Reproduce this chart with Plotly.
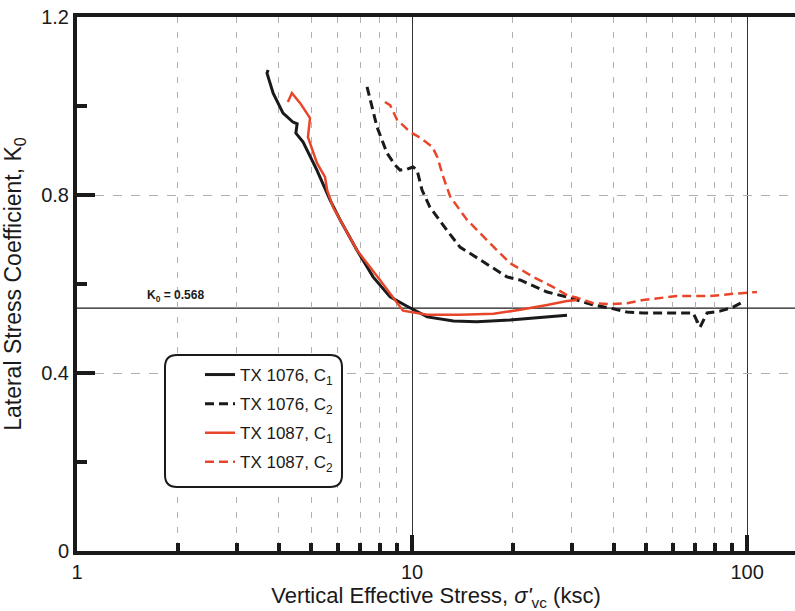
import plotly.graph_objects as go

# ---- data ----
x_1076_c1 = [3.72, 3.69, 3.85, 4.12, 4.41, 4.54, 4.50, 4.73, 5.20, 5.69, 6.10, 6.85, 7.65, 8.60, 9.66, 11.1, 13.3, 15.6, 19.6, 24.6, 29.0]
y_1076_c1 = [1.081, 1.074, 1.029, 0.984, 0.964, 0.960, 0.939, 0.919, 0.856, 0.789, 0.744, 0.676, 0.616, 0.571, 0.550, 0.526, 0.517, 0.515, 0.519, 0.526, 0.530]

x_1076_c2 = [7.34, 7.60, 7.86, 8.42, 8.90, 9.21, 9.66, 10.07, 10.35, 10.71, 11.3, 12.7, 13.9, 16.0, 19.2, 21.0, 25.3, 29.6, 33.3, 34.7, 39.0, 43.8, 48.9, 61.8, 69.0, 72.4, 76.0, 83.0, 90.8, 97.3]
y_1076_c2 = [1.043, 0.998, 0.953, 0.894, 0.867, 0.856, 0.858, 0.863, 0.856, 0.811, 0.773, 0.721, 0.683, 0.654, 0.616, 0.609, 0.582, 0.569, 0.557, 0.553, 0.546, 0.537, 0.535, 0.535, 0.535, 0.503, 0.535, 0.539, 0.548, 0.560]

x_1087_c1 = [4.26, 4.38, 4.63, 4.96, 4.89, 5.20, 5.50, 5.58, 5.81, 6.85, 8.02, 9.40, 11.1, 13.9, 17.5, 21.0, 25.3, 29.0, 31.1]
y_1087_c1 = [1.009, 1.029, 1.007, 0.973, 0.930, 0.872, 0.840, 0.811, 0.773, 0.676, 0.609, 0.540, 0.531, 0.531, 0.533, 0.542, 0.553, 0.562, 0.564]

x_1087_c2 = [8.30, 8.60, 9.02, 9.86, 10.6, 11.5, 11.9, 12.4, 13.0, 14.6, 16.7, 19.6, 23.0, 26.4, 29.0, 31.1, 34.7, 39.0, 43.8, 48.9, 61.8, 77.6, 90.8, 107.0]
y_1087_c2 = [1.009, 1.002, 0.969, 0.942, 0.928, 0.908, 0.885, 0.840, 0.796, 0.744, 0.699, 0.647, 0.616, 0.593, 0.575, 0.569, 0.557, 0.555, 0.557, 0.564, 0.573, 0.573, 0.578, 0.582]

k0_line = 0.546
k0_label = "K<sub>0</sub> = 0.568"

x_major = [1, 10, 100]
x_minor = [2, 3, 4, 5, 6, 7, 8, 9, 20, 30, 40, 50, 60, 70, 80, 90]
y_major = [0, 0.4, 0.8, 1.2]
y_minor = [0.2, 0.6, 1.0]

BLACK = "#1a1a1a"
RED = "#e8462a"
FONT = "Liberation Sans, Arial, sans-serif"

fig = go.Figure()
fig.add_trace(go.Scatter(x=x_1076_c1, y=y_1076_c1, mode="lines", name="TX 1076, C<sub>1</sub>",
                         legendgroup="a", line=dict(color=BLACK, width=3)))
fig.add_trace(go.Scatter(x=x_1076_c2, y=y_1076_c2, mode="lines", name="TX 1076, C<sub>2</sub>",
                         legendgroup="b", line=dict(color=BLACK, width=3, dash="9px,5px")))
fig.add_trace(go.Scatter(x=x_1087_c1, y=y_1087_c1, mode="lines", name="TX 1087, C<sub>1</sub>",
                         legendgroup="c", line=dict(color=RED, width=2.5)))
fig.add_trace(go.Scatter(x=x_1087_c2, y=y_1087_c2, mode="lines", name="TX 1087, C<sub>2</sub>",
                         legendgroup="d", line=dict(color=RED, width=2.5, dash="9px,5px")))

W, H = 795, 611
L, R, T, B = 77, 0, 17, 60
pw, ph = W - L - R, H - T - B
def px(xp):
    return (xp - L) / pw
def py(yp):
    return (H - B - yp) / ph

# K0 reference line
fig.add_shape(type="line", xref="paper", x0=0, x1=1, yref="y", y0=k0_line, y1=k0_line,
              line=dict(color=BLACK, width=1.2), layer="below")
fig.add_annotation(x=px(175), xref="paper", y=py(296), yref="paper", text="<b>" + k0_label + "</b>",
                   showarrow=False, xanchor="center", yanchor="middle",
                   font=dict(family=FONT, size=12, color=BLACK))

# rounded legend box
bx0, bx1, by0, by1 = px(165), px(342), py(487), py(355)
rx, ry = 12 / pw, 12 / ph
path = (f"M {bx0+rx},{by0} L {bx1-rx},{by0} Q {bx1},{by0} {bx1},{by0+ry} "
        f"L {bx1},{by1-ry} Q {bx1},{by1} {bx1-rx},{by1} L {bx0+rx},{by1} "
        f"Q {bx0},{by1} {bx0},{by1-ry} L {bx0},{by0+ry} Q {bx0},{by0} {bx0+rx},{by0} Z")
fig.add_shape(type="path", xref="paper", yref="paper", path=path,
              line=dict(color=BLACK, width=2), fillcolor="white", layer="above")

fig.update_layout(
    width=W, height=H,
    margin=dict(l=L, r=R, t=T, b=B),
    plot_bgcolor="white", paper_bgcolor="white",
    font=dict(family=FONT, size=17, color=BLACK),
    showlegend=True,
    legend=dict(x=px(200), y=py(357), xanchor="left", yanchor="top",
                bgcolor="rgba(0,0,0,0)", borderwidth=0,
                font=dict(family=FONT, size=17, color=BLACK), tracegroupgap=4),
    xaxis=dict(
        type="log", range=[0, 2.143], automargin=False,
        tickvals=x_major, ticktext=["1", "10", "100"],
        ticks="inside", ticklen=16, tickwidth=4, tickcolor=BLACK,
        showline=True, linecolor=BLACK, linewidth=4, mirror=True,
        showgrid=True, gridcolor="#333333", gridwidth=1,
        minor=dict(tickvals=x_minor, ticks="inside", ticklen=8, tickwidth=4, tickcolor=BLACK,
                   showgrid=True, gridcolor="#b0b0b0", gridwidth=1, griddash="6px,9px"),
        tickfont=dict(size=20),
        title=dict(text="Vertical Effective Stress, <i>σ'</i><sub>vc</sub> (ksc)", font=dict(size=22)),
        zeroline=False,
    ),
    yaxis=dict(
        range=[0, 1.2], automargin=False,
        tickvals=y_major, ticktext=["0", "0.4", "0.8", "1.2"],
        ticks="inside", ticklen=18, tickwidth=4, tickcolor=BLACK,
        showline=True, linecolor=BLACK, linewidth=4,
        showgrid=True, gridcolor="#b0b0b0", gridwidth=1, griddash="9px,9px",
        minor=dict(tickvals=y_minor, ticks="inside", ticklen=10, tickwidth=4, tickcolor=BLACK, showgrid=False),
        tickfont=dict(size=20),
        title=dict(text="Lateral Stress Coefficient, K<sub>0</sub>", font=dict(size=23)),
        zeroline=False,
    ),
)

fig.write_html("out.html", config={"displayModeBar": False},
               post_script="document.body.style.margin='0';document.body.style.overflow='hidden';")
